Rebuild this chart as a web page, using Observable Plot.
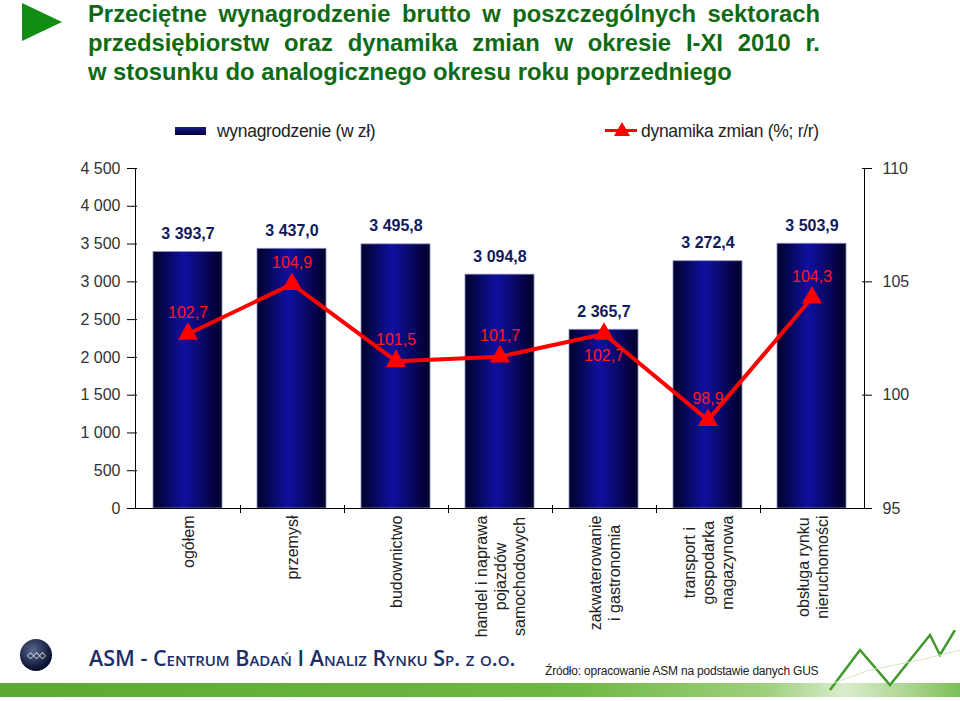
<!DOCTYPE html>
<html><head><meta charset="utf-8">
<script src="https://cdn.jsdelivr.net/npm/d3@7"></script>
<script src="https://cdn.jsdelivr.net/npm/@observablehq/plot@0.6"></script>
<style>
body{margin:0;background:#fff;font-family:"Liberation Sans",Arial,sans-serif;}
#wrap{position:relative;width:960px;height:701px;overflow:hidden;background:#fff;}
#chart{position:absolute;left:0;top:0;}
.arrow{position:absolute;left:22px;top:3px;width:0;height:0;border-left:40px solid #118d14;border-top:19px solid transparent;border-bottom:19px solid transparent;}
.title{position:absolute;left:88px;top:-1px;width:732px;color:#0f6a14;font-weight:bold;font-size:23.8px;line-height:29px;}
.title .j{text-align:justify;text-align-last:justify;}
.leg{position:absolute;font-size:17.5px;line-height:20px;color:#222;letter-spacing:-0.3px;white-space:nowrap;}
.sw{position:absolute;left:175px;top:127px;width:31px;height:8px;background:linear-gradient(to bottom,#1a1a8a,#000040);}
.rl{position:absolute;left:605px;top:129px;width:32px;height:3px;background:#ff0000;}
.rt{position:absolute;left:614px;top:122px;width:0;height:0;border-left:8px solid transparent;border-right:8px solid transparent;border-bottom:14px solid #ff0000;}
.logo{position:absolute;left:20px;top:639px;width:32px;height:32px;border-radius:50%;background:radial-gradient(circle at 40% 35%,#56668c,#0a1030 70%);color:#fff;font-size:9px;line-height:32px;text-align:center;letter-spacing:-1px;}
.company{position:absolute;left:89px;top:643px;font-family:"Open Sans",sans-serif;font-variant:small-caps;font-weight:600;font-size:21.5px;color:#1c2e66;white-space:nowrap;}
.src{position:absolute;left:545px;top:664px;font-size:12px;color:#222;white-space:nowrap;letter-spacing:-0.2px;}
.band{position:absolute;left:0;top:683px;width:960px;height:14px;background:linear-gradient(to right,#5aaa32,#6fb843 60%,#9fd07f 80%,#d9eccb 88%,#a8d48c 95%,#7cbf55);}
.deco{position:absolute;left:820px;top:630px;}
</style></head><body>
<div id="wrap">
  <div id="chart"></div>
  <div class="arrow"></div>
  <div class="title">
    <div class="j">Przeciętne wynagrodzenie brutto w poszczególnych sektorach</div>
    <div class="j">przedsiębiorstw oraz dynamika zmian w okresie I-XI 2010 r.</div>
    <div>w stosunku do analogicznego okresu roku poprzedniego</div>
  </div>
  <div class="sw"></div>
  <div class="leg" style="left:217px;top:121px;">wynagrodzenie (w zł)</div>
  <div class="rl"></div><div class="rt"></div>
  <div class="leg" style="left:641px;top:121px;">dynamika zmian (%; r/r)</div>
  <div class="band"></div>
  <svg class="deco" width="140" height="70"><polyline points="10,60 40,20 70,55 110,5 120,25 135,0" fill="none" stroke="#3f9a2a" stroke-width="2.5"/><polyline points="0,58 50,40 100,30 140,20" fill="none" stroke="#cfe6c0" stroke-width="1"/></svg>
  <div class="logo">◇◇◇</div>
  <div class="company">ASM - Centrum Badań I Analiz Rynku Sp. z o.o.</div>
  <div class="src">Źródło: opracowanie ASM na podstawie danych GUS</div>
</div>
<script>
// ---- data ----
const categories = ["ogółem","przemysł","budownictwo","handel i naprawa\npojazdów\nsamochodowych","zakwaterowanie\ni gastronomia","transport i\ngospodarka\nmagazynowa","obsługa rynku\nnieruchomości"];
const wages = [3393.7, 3437.0, 3495.8, 3094.8, 2365.7, 3272.4, 3503.9];
const dynamics = [102.7, 104.9, 101.5, 101.7, 102.7, 98.9, 104.3];
const leftTicks = [0, 500, 1000, 1500, 2000, 2500, 3000, 3500, 4000, 4500];
const rightTicks = [95, 100, 105, 110];

// ---- layout ----
const W = 960, H = 701, mL = 132, mR = 93, mT = 168, mB = 193;
const frameW = W - mL - mR, frameH = H - mT - mB;
const step = frameW / categories.length;
const leftMax = 4500, rMin = 95, rMax = 110;
const toLeft = v => (v - rMin) / (rMax - rMin) * leftMax;
const fmtVal = v => d3.format(",.1f")(v).replace(",", " ").replace(".", ",");
const fmtTick = v => d3.format(",")(v).replace(",", " ");

const rows = categories.map((c, i) => ({cat: c, wage: wages[i], dyn: dynamics[i], i}));

const ctx = document.createElement("canvas").getContext("2d");
ctx.font = "16px 'Liberation Sans'";
const maxLineW = categories.map(c => d3.max(c.split("\n"), s => ctx.measureText(s).width));

const defs = () => {
  const g = document.createElementNS("http://www.w3.org/2000/svg", "defs");
  g.innerHTML = `<linearGradient id="barGrad" x1="0" x2="1" y1="0" y2="0">
    <stop offset="0" stop-color="#00002a"/>
    <stop offset="0.45" stop-color="#1010a0"/>
    <stop offset="1" stop-color="#00002a"/></linearGradient>`;
  return g;
};

const catLabels = rows.map((r, i) => Plot.text([r], {
  x: "cat", text: "cat", frameAnchor: "bottom", rotate: -90, textAnchor: "middle",
  lineAnchor: "middle", dy: 7 + maxLineW[i] / 2, fontSize: 16, lineHeight: 1.2, fill: "#222"
}));

const plot = Plot.plot({
  width: W, height: H, marginLeft: mL, marginRight: mR, marginTop: mT, marginBottom: mB,
  style: {fontFamily: "'Liberation Sans', Arial, sans-serif", background: "transparent", overflow: "visible"},
  x: {domain: categories, paddingInner: 0.333, paddingOuter: 0.1667, axis: null},
  y: {domain: [0, leftMax], axis: null},
  marks: [
    defs,
    Plot.barY(rows, {x: "cat", y: "wage", fill: "url(#barGrad)", stroke: "#8a8ab8", strokeWidth: 0.8}),
    Plot.ruleY([0], {stroke: "#000"}),
    Plot.ruleX([categories[0]], {dx: -step / 2, stroke: "#000"}),
    Plot.ruleX([categories[categories.length - 1]], {dx: step / 2, stroke: "#000"}),
    Plot.ruleY(leftTicks, {insetLeft: -5, insetRight: frameW - 5, stroke: "#000"}),
    Plot.ruleY(rightTicks.map(toLeft), {insetLeft: frameW - 5, insetRight: -5, stroke: "#000"}),
    Plot.ruleX(categories.slice(0, -1), {dx: step / 2, insetTop: frameH - 3, insetBottom: -5, stroke: "#000"}),
    Plot.text(leftTicks, {y: d => d, text: fmtTick, frameAnchor: "left", textAnchor: "end", dx: -12, fontSize: 16, fill: "#333"}),
    Plot.text(rightTicks, {y: toLeft, text: d => String(d), frameAnchor: "right", textAnchor: "start", dx: 15, fontSize: 16, fill: "#333"}),
    Plot.text(rows, {x: "cat", y: "wage", text: d => fmtVal(d.wage), dy: -18, fontSize: 16, fontWeight: "bold", fill: "#111a5c", letterSpacing: "-0.4px"}),
    Plot.line(rows, {x: "cat", y: d => toLeft(d.dyn), stroke: "#ff0000", strokeWidth: 4}),
    Plot.dot(rows, {x: "cat", y: d => toLeft(d.dyn), symbol: "triangle", r: 7.5, fill: "#ff0000", stroke: "none"}),
    Plot.text(rows, {filter: d => d.i !== 4, x: "cat", y: d => toLeft(d.dyn), text: d => fmtVal(d.dyn), dy: -21, fontSize: 16, fill: "#ff1a1a"}),
    Plot.text(rows, {filter: d => d.i === 4, x: "cat", y: d => toLeft(d.dyn), text: d => fmtVal(d.dyn), dy: 22, fontSize: 16, fill: "#ff1a1a"}),
    ...catLabels
  ]
});
document.getElementById("chart").appendChild(plot);
</script>
</body></html>
